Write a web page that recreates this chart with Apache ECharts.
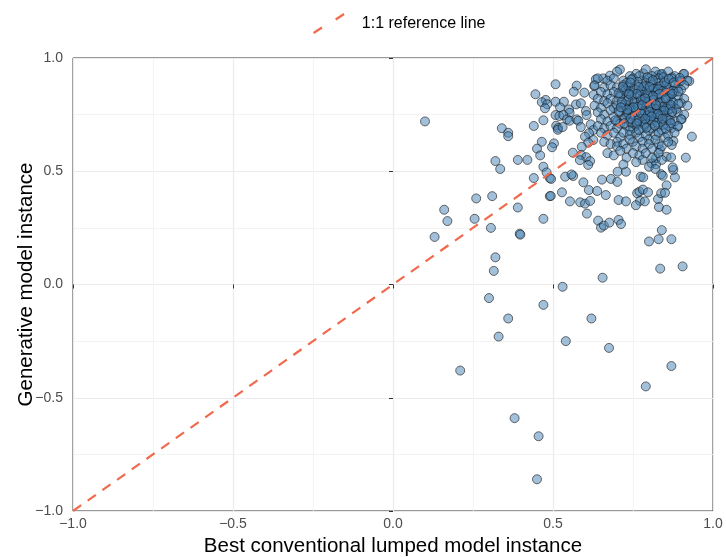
<!DOCTYPE html>
<html>
<head>
<meta charset="utf-8">
<script src="https://cdn.jsdelivr.net/npm/echarts@6/dist/echarts.min.js"></script>
<style>html,body{margin:0;padding:0;background:#fff;}#c{width:726px;height:557px;}</style>
</head>
<body>
<div id="c"></div>
<script>
// Axis ticks
const xTicks = [-1, -0.5, 0, 0.5, 1];
const yTicks = [-1, -0.5, 0, 0.5, 1];
// 1:1 reference line endpoints
const refLine = [[-1, -1], [1, 1]];

// Sparse points away from the main cluster: [conventional, generative]
const sparsePoints = [
[0.10,0.72],[0.21,-0.38],[0.13,0.21],[0.16,0.33],[0.17,0.28],[0.26,0.38],[0.255,0.29],[0.31,0.39],[0.306,0.25],[0.32,0.12],[0.315,0.06],[0.30,-0.06],[0.33,-0.23],[0.36,-0.15],[0.38,-0.59],[0.455,-0.67],[0.45,-0.86],[0.47,-0.09],[0.53,-0.01],[0.54,-0.25],[0.62,-0.15],[0.675,-0.28],[0.655,0.03],[0.79,-0.45],[0.87,-0.36],[0.905,0.08],[0.835,0.07],[0.84,0.24],[0.83,0.20],[0.80,0.19],[0.87,0.20],
[0.34,0.69],[0.36,0.67],[0.36,0.655],[0.44,0.70],[0.47,0.725],[0.465,0.63],[0.45,0.60],[0.46,0.57],[0.32,0.545],[0.335,0.51],[0.39,0.55],[0.42,0.55],[0.47,0.52],[0.48,0.495],[0.44,0.47],[0.49,0.47],[0.39,0.34],[0.49,0.39],[0.47,0.29],[0.396,0.224],[0.398,0.22],[0.445,0.84]
];

// Points below the cluster (generative 0.25 - 0.5)
const lowerPoints = [
[0.494,0.466],[0.538,0.476],[0.563,0.479],[0.595,0.451],[0.653,0.463],[0.681,0.466],[0.701,0.453],[0.702,0.498],[0.728,0.498],[0.774,0.476],[0.782,0.473],[0.838,0.487],[0.843,0.48],[0.881,0.473],[0.876,0.506],[0.855,0.438],
[0.493,0.391],[0.528,0.407],[0.553,0.367],[0.585,0.363],[0.60,0.357],[0.616,0.369],[0.612,0.417],[0.638,0.413],[0.665,0.395],[0.705,0.373],[0.728,0.367],[0.763,0.403],[0.77,0.41],[0.781,0.419],[0.797,0.407],[0.772,0.369],[0.787,0.367],[0.759,0.35],[0.828,0.377],[0.838,0.403],[0.85,0.405],[0.831,0.342],[0.855,0.33],
[0.606,0.313],[0.641,0.282],[0.65,0.251],[0.659,0.26],[0.676,0.273],[0.705,0.285],[0.7125,0.267]
];

// Cluster edge points
const edgePoints = [
[0.508,0.884],[0.574,0.878],[0.565,0.851],[0.598,0.847],[0.627,0.837],[0.477,0.815],[0.465,0.805],[0.482,0.796],[0.475,0.778],[0.508,0.807],[0.534,0.807],[0.572,0.795],[0.587,0.80],[0.55,0.773],[0.552,0.758],[0.522,0.782],[0.508,0.748],[0.52,0.744],[0.532,0.748],[0.544,0.729],[0.552,0.723],[0.574,0.729],[0.579,0.723],[0.603,0.766],[0.605,0.748],[0.51,0.701],[0.516,0.691],[0.515,0.683],[0.53,0.695],[0.587,0.695],[0.618,0.707],[0.626,0.682],[0.6125,0.668],[0.60,0.653],[0.626,0.638],[0.61,0.626],[0.59,0.608],[0.503,0.623],[0.497,0.606],[0.562,0.582],[0.588,0.572],[0.604,0.562],[0.616,0.545],[0.584,0.549],[0.558,0.486],[0.61,0.528],
[0.629,0.877],[0.634,0.906],[0.657,0.91],[0.678,0.922],[0.709,0.949],[0.782,0.932],[0.829,0.925],[0.84,0.925],[0.872,0.915],[0.907,0.929],[0.926,0.898],[0.934,0.653],[0.915,0.56],[0.874,0.517],
[0.892,0.896],[0.902,0.729],[0.876,0.634],[0.871,0.616],[0.89,0.697],[0.834,0.596],[0.855,0.564],[0.869,0.561],[0.821,0.557],[0.808,0.535],[0.822,0.531]
];

// Dense cluster core
const corePoints = [
[0.70,0.94],[0.76,0.93],[0.79,0.95],[0.82,0.94],[0.84,0.93],[0.86,0.94],[0.88,0.92],[0.91,0.93],[0.74,0.92],[0.81,0.92],
[0.64,0.91],[0.67,0.90],[0.69,0.91],[0.72,0.90],[0.75,0.91],[0.78,0.90],[0.80,0.91],[0.83,0.91],[0.85,0.90],[0.87,0.91],[0.90,0.90],[0.92,0.90],[0.77,0.92],[0.73,0.89],
[0.63,0.88],[0.66,0.87],[0.68,0.88],[0.70,0.87],[0.72,0.88],[0.74,0.87],[0.76,0.88],[0.78,0.87],[0.79,0.89],[0.81,0.88],[0.82,0.87],[0.84,0.88],[0.86,0.87],[0.88,0.88],[0.89,0.87],[0.91,0.88],[0.83,0.89],[0.75,0.86],[0.80,0.86],
[0.65,0.85],[0.67,0.84],[0.69,0.85],[0.71,0.84],[0.72,0.86],[0.74,0.85],[0.77,0.84],[0.78,0.85],[0.80,0.84],[0.82,0.85],[0.83,0.84],[0.85,0.85],[0.87,0.84],[0.88,0.85],[0.90,0.86],[0.86,0.86],[0.73,0.83],[0.79,0.83],
[0.64,0.82],[0.66,0.81],[0.68,0.82],[0.70,0.81],[0.71,0.83],[0.73,0.81],[0.75,0.82],[0.76,0.80],[0.78,0.82],[0.80,0.81],[0.81,0.83],[0.83,0.82],[0.84,0.80],[0.86,0.82],[0.87,0.81],[0.89,0.83],[0.91,0.82],[0.77,0.83],[0.82,0.80],
[0.63,0.79],[0.65,0.78],[0.67,0.80],[0.69,0.78],[0.70,0.79],[0.72,0.78],[0.74,0.79],[0.75,0.77],[0.77,0.79],[0.79,0.78],[0.80,0.79],[0.82,0.77],[0.83,0.79],[0.85,0.78],[0.86,0.79],[0.88,0.78],[0.90,0.80],[0.92,0.79],[0.78,0.80],[0.84,0.77],
[0.64,0.76],[0.66,0.75],[0.68,0.77],[0.71,0.76],[0.73,0.75],[0.74,0.77],[0.76,0.76],[0.78,0.75],[0.79,0.76],[0.81,0.75],[0.82,0.76],[0.84,0.75],[0.85,0.76],[0.87,0.75],[0.89,0.76],[0.91,0.75],[0.80,0.77],[0.86,0.77],
[0.65,0.73],[0.67,0.72],[0.69,0.74],[0.70,0.72],[0.72,0.73],[0.74,0.72],[0.75,0.74],[0.77,0.73],[0.78,0.72],[0.80,0.73],[0.81,0.71],[0.83,0.73],[0.84,0.72],[0.86,0.73],[0.88,0.72],[0.90,0.73],[0.76,0.71],[0.82,0.74],
[0.64,0.70],[0.66,0.69],[0.68,0.70],[0.70,0.69],[0.71,0.71],[0.73,0.70],[0.75,0.69],[0.76,0.70],[0.78,0.69],[0.79,0.71],[0.81,0.69],[0.83,0.70],[0.84,0.68],[0.86,0.70],[0.87,0.69],[0.89,0.70],[0.74,0.68],[0.80,0.68],
[0.65,0.67],[0.67,0.66],[0.69,0.67],[0.71,0.65],[0.72,0.67],[0.74,0.66],[0.76,0.67],[0.77,0.65],[0.79,0.66],[0.80,0.64],[0.82,0.66],[0.83,0.67],[0.85,0.65],[0.86,0.66],[0.88,0.67],[0.70,0.63],[0.78,0.63],
[0.66,0.63],[0.68,0.62],[0.70,0.61],[0.72,0.62],[0.73,0.60],[0.75,0.63],[0.76,0.61],[0.78,0.60],[0.80,0.62],[0.81,0.60],[0.83,0.62],[0.84,0.61],[0.86,0.63],[0.82,0.64],[0.74,0.64],
[0.67,0.58],[0.69,0.57],[0.71,0.59],[0.73,0.56],[0.75,0.58],[0.77,0.57],[0.78,0.55],[0.79,0.58],[0.81,0.56],[0.83,0.58],[0.84,0.55],[0.76,0.54],[0.72,0.53],[0.80,0.52],[0.82,0.51],
[0.725,0.855],[0.735,0.875],[0.745,0.835],[0.755,0.865],[0.765,0.895],[0.775,0.855],[0.785,0.875],[0.795,0.845],[0.805,0.895],[0.815,0.865],[0.825,0.835],[0.835,0.875],[0.845,0.855],[0.855,0.885],[0.865,0.835],
[0.725,0.795],[0.735,0.815],[0.745,0.775],[0.755,0.805],[0.765,0.785],[0.775,0.815],[0.785,0.765],[0.795,0.805],[0.805,0.785],[0.815,0.815],[0.825,0.775],[0.835,0.805],[0.845,0.785],[0.855,0.815],[0.865,0.775],
[0.725,0.735],[0.735,0.755],[0.745,0.715],[0.755,0.745],[0.765,0.725],[0.775,0.755],[0.785,0.705],[0.795,0.745],[0.805,0.725],[0.815,0.755],[0.825,0.715],[0.835,0.745],[0.845,0.705],[0.855,0.735],[0.865,0.725],
[0.705,0.845],[0.715,0.805],[0.705,0.765],[0.875,0.805],[0.875,0.855],[0.885,0.775],[0.695,0.725],[0.745,0.905],[0.795,0.915],[0.845,0.915],
[0.812,0.902],[0.828,0.862],[0.848,0.892],[0.862,0.908],[0.878,0.892],[0.896,0.912],[0.802,0.872],[0.768,0.872],[0.742,0.892],[0.718,0.872],
[0.832,0.842],[0.852,0.822],[0.872,0.842],[0.892,0.852],[0.812,0.832],[0.788,0.822],[0.762,0.842],[0.738,0.842],[0.868,0.792],[0.892,0.798],
[0.848,0.768],[0.822,0.792],[0.802,0.762],[0.778,0.792],[0.752,0.782],[0.732,0.772],[0.712,0.782],[0.872,0.762],[0.828,0.752],[0.808,0.742],
[0.788,0.732],[0.762,0.712],[0.742,0.732],[0.842,0.732],[0.868,0.712],[0.818,0.702],[0.792,0.692],[0.768,0.682],[0.852,0.688],[0.722,0.712]
];

const allPoints = sparsePoints.concat(lowerPoints, edgePoints, corePoints);

const fmt = v => (v < 0 ? '\u2212' : '') + Math.abs(v).toFixed(1);
const FONT = 'Liberation Sans, Arial, sans-serif';

const chart = echarts.init(document.getElementById('c'), null, {renderer: 'canvas'});
const axisCommon = {
  type: 'value', min: -1, max: 1, interval: 0.5,
  axisLine: {show: false},
  axisTick: {show: true, inside: false, length: 4, lineStyle: {color: '#333', width: 1}},
  axisLabel: {color: '#4D4D4D', fontSize: 14, fontFamily: FONT, formatter: fmt, hideOverlap: false},
  splitLine: {show: true, lineStyle: {color: '#EBEBEB', width: 1.2}},
  minorTick: {show: false, splitNumber: 2},
  minorSplitLine: {show: true, lineStyle: {color: '#F0F0F0', width: 0.8}},
  nameLocation: 'middle',
  nameMoveOverlap: false,
  nameTextStyle: {color: '#000', fontSize: 20.5, fontFamily: FONT}
};
chart.setOption({
  animation: false,
  backgroundColor: '#fff',
  grid: {left: 73, right: 13, top: 58, bottom: 46, show: true, borderColor: '#333', borderWidth: 1,
         backgroundColor: 'transparent', outerBoundsMode: 'none', containLabel: false},
  legend: {
    left: 308, top: 8,
    itemWidth: 32, itemHeight: 21,
    data: [{name: '1:1 reference line', icon: 'path://M0,18.6 L7.9,13.3 L9.1,15.1 L1.1,20.4 Z M20.9,5.8 L28.9,0.5 L30,2.3 L22.1,7.6 Z', itemStyle: {color: '#F06A4E'}}],
    textStyle: {color: '#000', fontSize: 16, fontFamily: FONT, padding: [0, 0, 0, 12]}
  },
  xAxis: Object.assign({}, axisCommon, {name: 'Best conventional lumped model instance', nameGap: 25,
    axisLabel: Object.assign({}, axisCommon.axisLabel, {margin: 6})}),
  yAxis: Object.assign({}, axisCommon, {name: 'Generative model instance', nameGap: 36,
    axisLabel: Object.assign({}, axisCommon.axisLabel, {margin: 10})}),
  series: [
    {
      name: 'points', type: 'scatter', data: allPoints, symbolSize: 9, z: 2,
      itemStyle: {color: 'rgba(70,130,180,0.5)', borderColor: 'rgba(20,20,20,0.6)', borderWidth: 1, opacity: 1}
    },
    {
      name: '1:1 reference line', type: 'line', data: refLine, symbol: 'none', z: 3,
      lineStyle: {color: '#F06A4E', width: 2.2, type: [10, 8]}
    }
  ]
});
</script>
</body>
</html>
